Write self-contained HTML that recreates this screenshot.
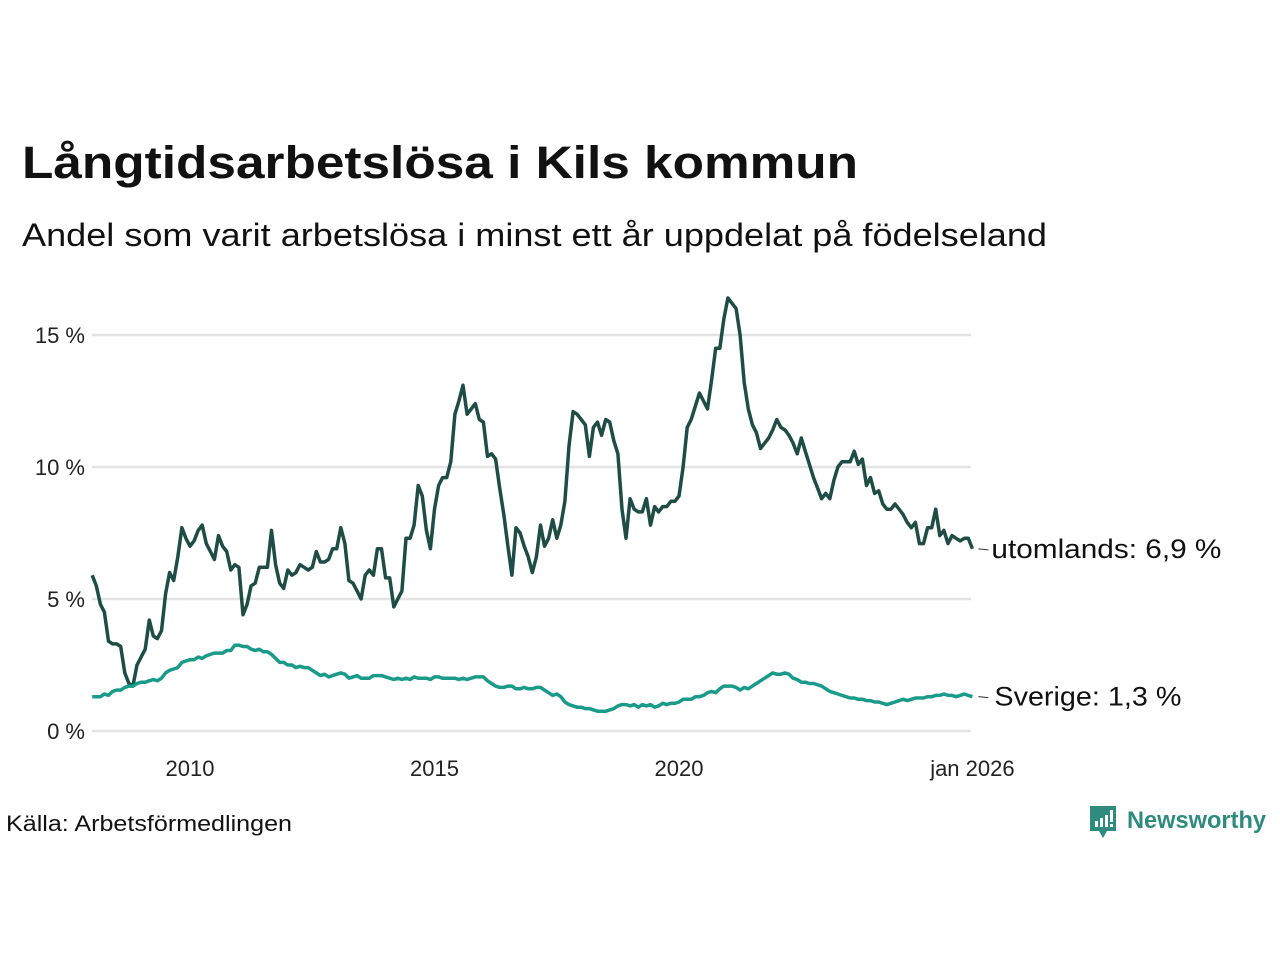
<!DOCTYPE html>
<html><head><meta charset="utf-8">
<style>
html,body{margin:0;padding:0;background:#fff;}
svg{display:block;font-family:"Liberation Sans",sans-serif;}
</style></head>
<body>
<svg id="chart" width="1280" height="960" viewBox="0 0 1280 960">
  <text x="22" y="178" font-size="45" font-weight="bold" fill="#111" textLength="836" lengthAdjust="spacingAndGlyphs">Långtidsarbetslösa i Kils kommun</text>
  <text x="22" y="246" font-size="32" fill="#111" textLength="1025" lengthAdjust="spacingAndGlyphs">Andel som varit arbetslösa i minst ett år uppdelat på födelseland</text>
  <g id="grid"></g>
  <g id="yticks"></g>
  <g id="xticks"></g>
  <g id="series"></g>
  <text x="6" y="831" font-size="22" fill="#111" textLength="286" lengthAdjust="spacingAndGlyphs">Källa: Arbetsförmedlingen</text>
  <g>
    <path d="M1090 806 h26 v25 h-9 l-4 7 l-4 -7 h-9 z" fill="#2e8b7e"/>
    <rect x="1095" y="821" width="3" height="6" fill="#fff"/>
    <rect x="1100" y="818" width="3" height="9" fill="#fff"/>
    <rect x="1105" y="815" width="3" height="12" fill="#fff"/>
    <rect x="1110" y="810" width="3" height="12" fill="#fff"/>
    <rect x="1110" y="824" width="3" height="3" fill="#fff"/>
    <text x="1127" y="828" font-size="24" font-weight="bold" fill="#2e8b7e" textLength="139" lengthAdjust="spacingAndGlyphs">Newsworthy</text>
  </g>
</svg>
<script>
const yTicks = [0, 5, 10, 15];
const yTickLabels = ["0 %", "5 %", "10 %", "15 %"];
const xTickYears = [2010, 2015, 2020, 2026];
const xTickLabels = ["2010", "2015", "2020", "jan 2026"];
const startYear = 2008;
const utomlands = [
5.9,5.5,4.8,4.5,3.4,3.3,3.3,3.2,2.2,1.8,1.7,2.5,
2.8,3.1,4.2,3.6,3.5,3.8,5.2,6.0,5.7,6.6,7.7,7.3,
7.0,7.2,7.6,7.8,7.1,6.8,6.5,7.4,7.0,6.8,6.1,6.3,
6.2,4.4,4.8,5.5,5.6,6.2,6.2,6.2,7.6,6.3,5.6,5.4,
6.1,5.9,6.0,6.3,6.2,6.1,6.2,6.8,6.4,6.4,6.5,6.9,
6.9,7.7,7.1,5.7,5.6,5.3,5.0,5.9,6.1,5.9,6.9,6.9,
5.8,5.8,4.7,5.0,5.3,7.3,7.3,7.8,9.3,8.9,7.6,6.9,
8.4,9.3,9.6,9.6,10.2,12.0,12.5,13.1,12.0,12.2,12.4,11.8,
11.7,10.4,10.5,10.3,9.2,8.2,7.0,5.9,7.7,7.5,7.0,6.6,
6.0,6.6,7.8,7.0,7.3,8.0,7.3,7.8,8.7,10.8,12.1,12.0,
11.8,11.6,10.4,11.5,11.7,11.2,11.8,11.7,11.0,10.5,8.4,7.3,
8.8,8.4,8.3,8.3,8.8,7.8,8.5,8.3,8.5,8.5,8.7,8.7,
8.9,10.0,11.5,11.8,12.3,12.8,12.5,12.2,13.3,14.5,14.5,15.6,
16.4,16.2,16.0,15.0,13.2,12.2,11.6,11.3,10.7,10.9,11.1,11.4,
11.8,11.5,11.4,11.2,10.9,10.5,11.1,10.6,10.1,9.6,9.2,8.8,
9.0,8.8,9.5,10.0,10.2,10.2,10.2,10.6,10.1,10.3,9.3,9.6,
9.0,9.1,8.6,8.4,8.4,8.6,8.4,8.2,7.9,7.7,7.9,7.1,
7.1,7.7,7.7,8.4,7.4,7.6,7.1,7.4,7.3,7.2,7.3,7.3,
6.9
];
const sverige = [
1.3,1.3,1.3,1.4,1.35,1.5,1.55,1.55,1.65,1.7,1.7,1.8,
1.85,1.85,1.9,1.95,1.9,2.0,2.2,2.3,2.35,2.4,2.6,2.65,
2.7,2.7,2.8,2.75,2.85,2.9,2.95,2.95,2.95,3.05,3.05,3.25,
3.25,3.2,3.2,3.1,3.05,3.1,3.0,3.0,2.9,2.75,2.6,2.6,
2.5,2.5,2.4,2.45,2.4,2.4,2.3,2.2,2.1,2.15,2.05,2.1,
2.15,2.2,2.15,2.0,2.05,2.1,2.0,2.0,2.0,2.1,2.1,2.1,
2.05,2.0,1.95,2.0,1.95,2.0,1.95,2.05,2.0,2.0,2.0,1.95,
2.05,2.05,2.0,2.0,2.0,2.0,1.95,2.0,1.95,2.0,2.05,2.05,
2.05,1.9,1.8,1.7,1.65,1.65,1.7,1.7,1.6,1.6,1.65,1.6,
1.6,1.65,1.65,1.55,1.45,1.35,1.4,1.3,1.1,1.0,0.95,0.9,
0.9,0.85,0.85,0.8,0.75,0.75,0.75,0.8,0.85,0.95,1.0,1.0,
0.95,1.0,0.9,1.0,0.95,1.0,0.9,0.95,1.05,1.0,1.05,1.05,
1.1,1.2,1.2,1.2,1.3,1.3,1.35,1.45,1.5,1.45,1.6,1.7,
1.7,1.7,1.65,1.55,1.65,1.6,1.7,1.8,1.9,2.0,2.1,2.2,
2.15,2.15,2.2,2.15,2.0,1.95,1.85,1.85,1.8,1.8,1.75,1.7,
1.6,1.5,1.45,1.4,1.35,1.3,1.25,1.25,1.2,1.2,1.15,1.15,
1.1,1.1,1.05,1.0,1.05,1.1,1.15,1.2,1.15,1.2,1.25,1.25,
1.25,1.3,1.3,1.35,1.35,1.4,1.35,1.35,1.3,1.35,1.4,1.35,
1.3
];
const seriesNames = ["utomlands", "Sverige"];
const NS = "http://www.w3.org/2000/svg";
function xPos(monthIndex){ return 92.2 + monthIndex * (48.9/12); }
function xYear(year){ return xPos((year - startYear) * 12); }
function yPos(v){ return 731 - v * 26.4; }
function mk(tag, attrs, parent){ const e=document.createElementNS(NS,tag); for(const k in attrs) e.setAttribute(k, attrs[k]); parent.appendChild(e); return e; }
const grid=document.getElementById('grid'), yt=document.getElementById('yticks'), xt=document.getElementById('xticks'), sg=document.getElementById('series');
yTicks.forEach((v,i)=>{
  const l=mk('line',{x1:92,x2:971,y1:yPos(v),y2:yPos(v),stroke:'#e3e3e6','stroke-width':2.5},grid);
  
  
  const t=mk('text',{x:85,y:yPos(v)+8,'font-size':22,'text-anchor':'end',fill:'#222'},yt);
  t.textContent=yTickLabels[i];
  
  
});
xTickYears.forEach((yr,i)=>{
  const t=mk('text',{x:xYear(yr),y:776,'font-size':22,'text-anchor':'middle',fill:'#222'},xt);
  t.textContent=xTickLabels[i];
  
  
});
function drawSeries(vals, color, name, label, dx, tl){
  const d=vals.map((v,i)=>(i?'L':'M')+xPos(i).toFixed(1)+' '+yPos(v).toFixed(1)).join(' ');
  const p=mk('path',{d:d,fill:'none',stroke:color,'stroke-width':3.5,'stroke-linejoin':'round'},sg);
  
  
  const last=vals[vals.length-1], lx=xPos(vals.length-1), ly=yPos(last);
  mk('line',{x1:lx+6,x2:lx+16,y1:ly,y2:ly+1,stroke:'#333','stroke-width':1},sg);
  const t=mk('text',{x:lx+dx,y:ly+9,'font-size':27,fill:'#111',textLength:tl,lengthAdjust:'spacingAndGlyphs'},sg);
  t.textContent=label+': '+last.toFixed(1).replace('.',',')+' %';
  
  
}
drawSeries(utomlands,'#1f4d45','utomlands','utomlands',19,230);
drawSeries(sverige,'#1a9a88','sverige','Sverige',22,187);
</script>
</body></html>
